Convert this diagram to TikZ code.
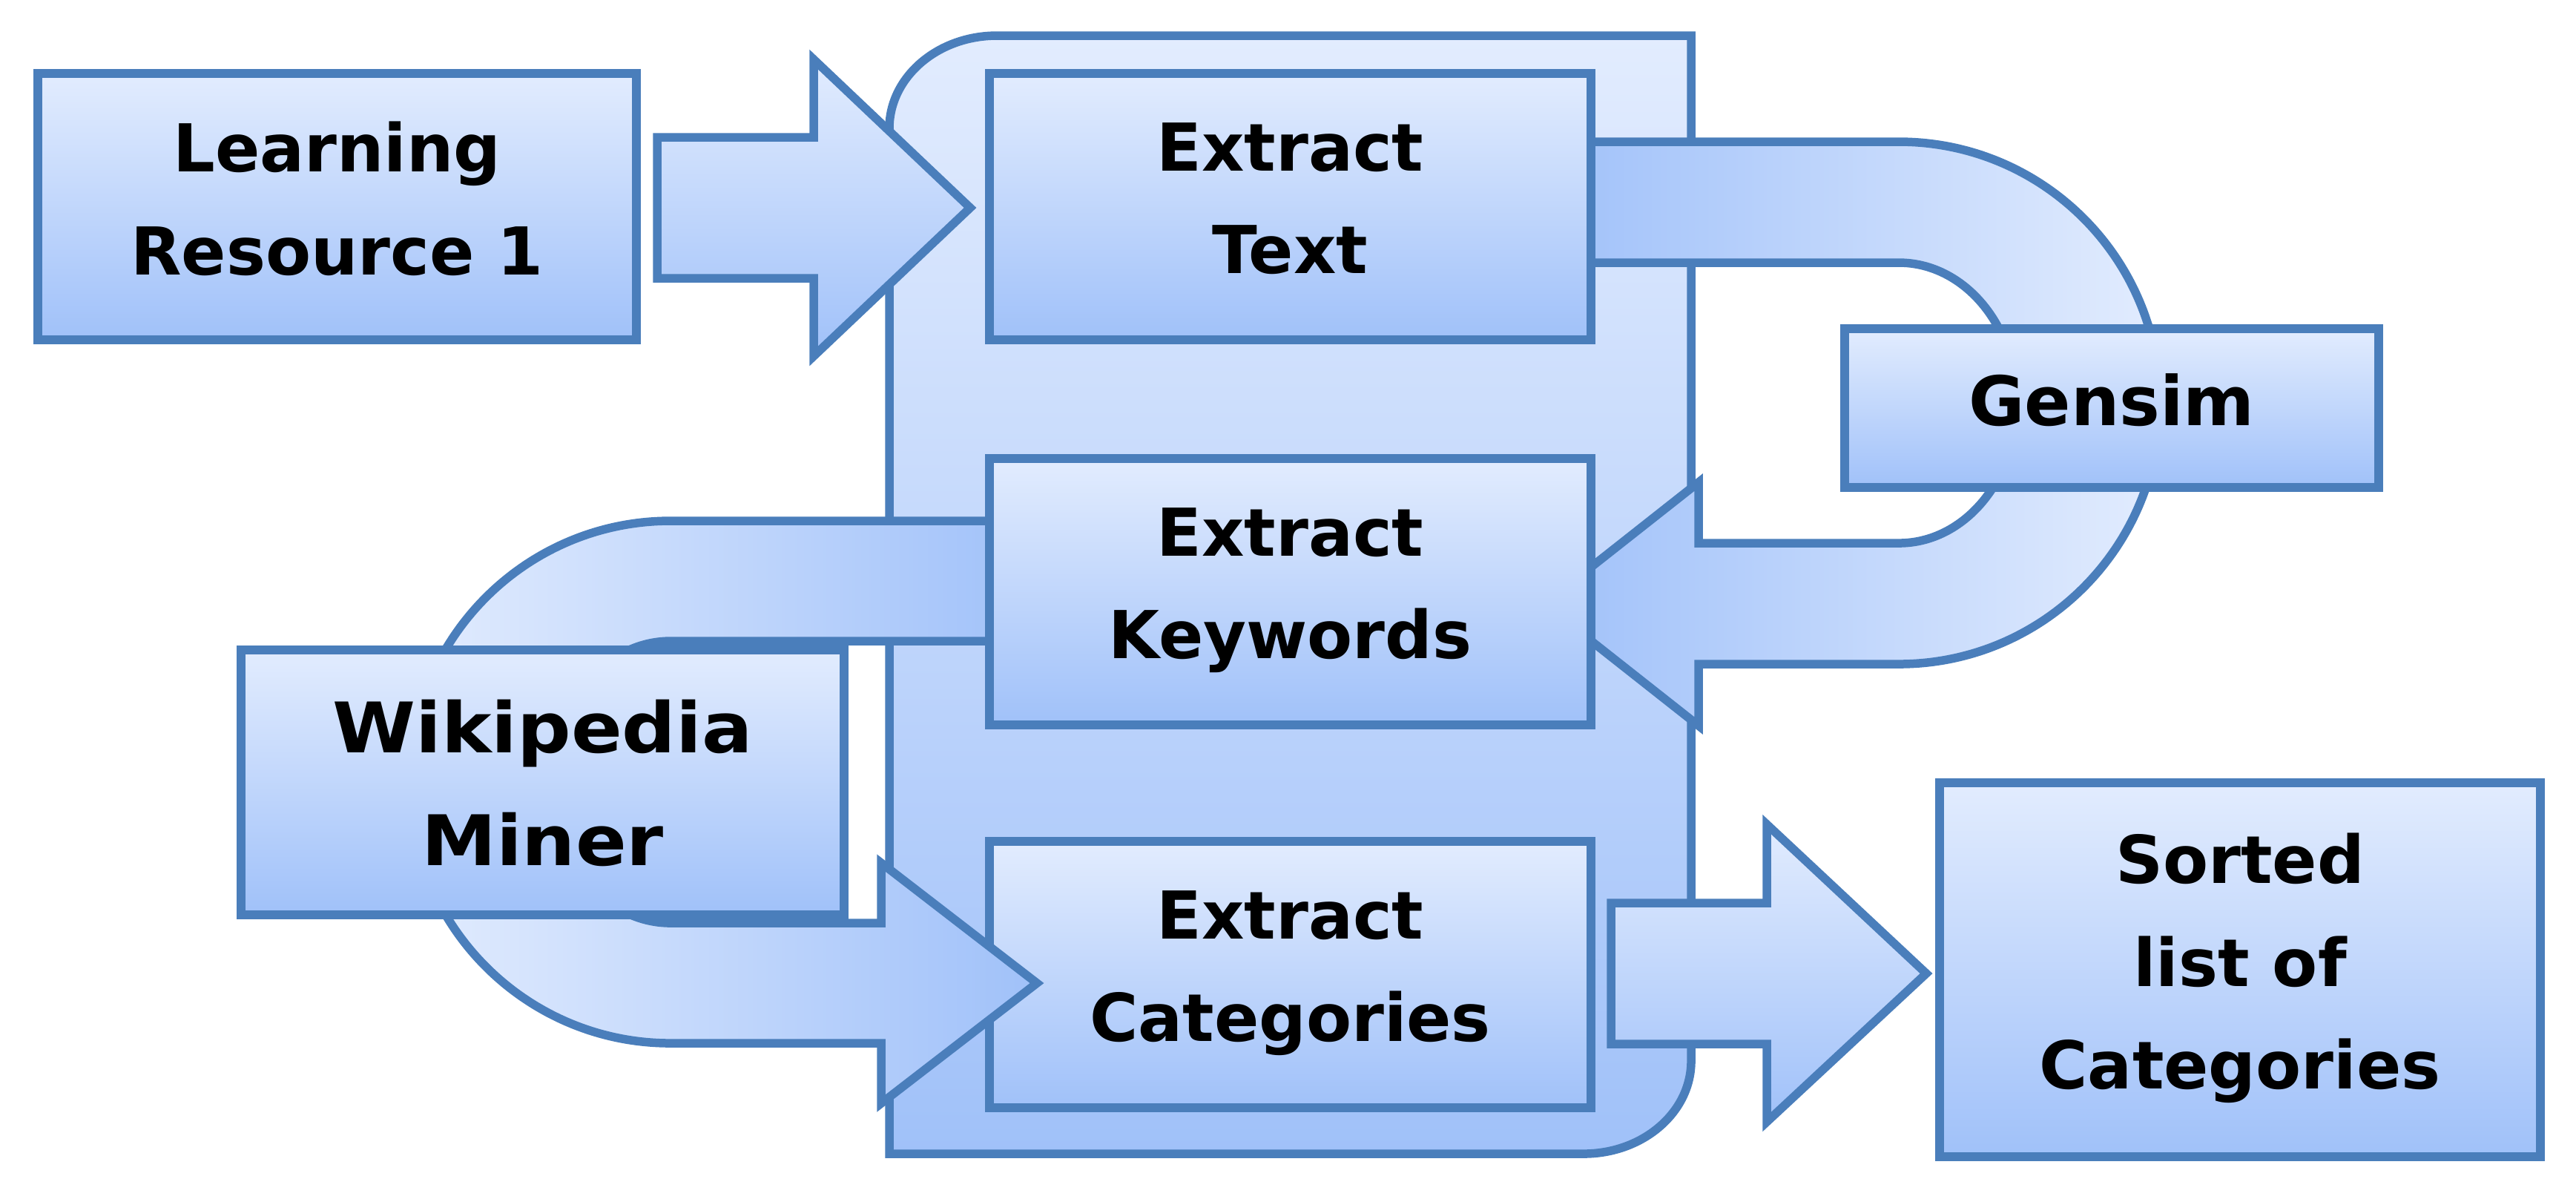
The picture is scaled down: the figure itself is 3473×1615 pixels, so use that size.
\documentclass[tikz,border=0pt]{standalone}
\usepackage{fontspec}
\setmainfont{DejaVu Sans}
\newfontfamily\wikifont[FakeStretch=1.08]{DejaVu Sans}
\definecolor{edgeblue}{RGB}{74,126,187}
\definecolor{liteblue}{RGB}{226,236,254}
\definecolor{darkblue}{RGB}{160,193,249}
\begin{document}
\begin{tikzpicture}[x=0.1pt,y=-0.1pt,
  shp/.style={draw=edgeblue, line width=1.15pt, line join=miter},
  vgrad/.style={top color=liteblue, bottom color=darkblue},
  box/.style={shp, vgrad, rectangle, inner sep=0pt, outer sep=0pt, align=center,
    text depth=2.3pt, font=\bfseries\fontsize{8.9}{13.85}\selectfont, text=black},
  bigbox/.style={box, minimum width=81.1pt, minimum height=35.9pt}]
\useasboundingbox (0,0) rectangle (3473,1615);

% container
\path[shp, vgrad] (1199,1555) -- (1199,173)
  arc[start angle=180, end angle=270, x radius=145, y radius=125]
  -- (2280,48) -- (2280,1430)
  arc[start angle=0, end angle=90, x radius=145, y radius=125] -- cycle;

\node[bigbox] (ec) at (1739.5,1313.5) {Extract\\Categories};

% left U-turn arrow: Extract Keywords -> Wikipedia Miner -> Extract Categories
\path[shp, left color=liteblue, right color=darkblue] (1360,702) -- (904,702)
  arc[start angle=270, end angle=90, radius=352]
  -- (1188,1406) -- (1188,1487) -- (1398,1325) -- (1188,1163) -- (1188,1244) -- (904,1244)
  arc[start angle=90, end angle=270, x radius=159, y radius=190]
  -- (1360,864) -- cycle;

% right U-turn arrow: Extract Text -> Gensim -> Extract Keywords
\path[shp, left color=darkblue, right color=liteblue] (2120,191) -- (2560,191)
  arc[start angle=-90, end angle=90, radius=352]
  -- (2290,895) -- (2290,978) -- (2082,814) -- (2290,650) -- (2290,732) -- (2560,732)
  arc[start angle=90, end angle=-90, x radius=159, y radius=189]
  -- (2120,354) -- cycle;

\node[bigbox] (et) at (1739.5,278.5) {Extract\\Text};
\node[bigbox] (ek) at (1739.5,797.5) {Extract\\Keywords};
\node[box, minimum width=72pt, minimum height=21.4pt,
  font=\bfseries\fontsize{9.2}{13.85}\selectfont] (gs) at (2847,550) {Gensim};
\node[box, minimum width=81.3pt, minimum height=35.7pt, text depth=0pt,
  font=\wikifont\bfseries\fontsize{9.4}{15.2}\selectfont] (wm) at (731.5,1054.5) {Wikipedia\\Miner};
\node[box, minimum width=80.7pt, minimum height=35.9pt] (lr) at (454.5,278.5) {Learning\\Resource 1};
\node[box, minimum width=81pt, minimum height=50.4pt] (sl) at (3020,1307) {Sorted\\list of\\Categories};

% block arrows
\path[shp, vgrad] (886,185) -- (1097,185) -- (1097,80) -- (1308,280) -- (1097,480)
  -- (1097,375) -- (886,375) -- cycle;
\path[shp, vgrad] (2172,1217) -- (2382,1217) -- (2382,1111) -- (2597,1312) -- (2382,1512)
  -- (2382,1407) -- (2172,1407) -- cycle;
\end{tikzpicture}
\end{document}
